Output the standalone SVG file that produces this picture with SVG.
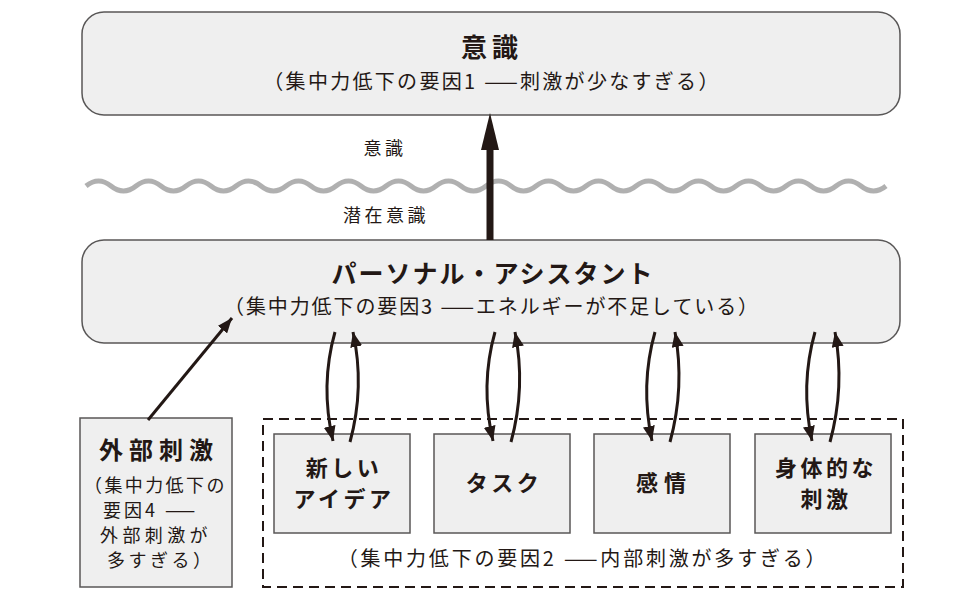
<svg xmlns="http://www.w3.org/2000/svg" width="970" height="600" viewBox="0 0 970 600">
<defs>
<marker id="ah" markerUnits="userSpaceOnUse" markerWidth="15" markerHeight="12" refX="15" refY="6" orient="auto">
<path d="M0,0 L15,6 L0,12 z" fill="#231815"/>
</marker>
<style>
text{font-family:"Noto Sans CJK JP","Noto Sans",sans-serif;fill:#231815;text-anchor:middle}
.big{font-size:25px;font-weight:bold;letter-spacing:2px}
.sub{font-size:20px;letter-spacing:2.3px}
.lbl{font-size:18px;letter-spacing:3.5px}
.node{font-size:22px;font-weight:bold;letter-spacing:3.5px}
.ext{font-size:18px;letter-spacing:3px;text-anchor:start}
.rbox{fill:#efefef;stroke:#595757;stroke-width:1.5}
.box{fill:#efefef;stroke:#595757;stroke-width:1.5}
.con{fill:none;stroke:#231815;stroke-width:3}
</style>
</defs>
<rect width="970" height="600" fill="#fff"/>
<path d="M86,186 q12.5,-10 25,0 t25,0 t25,0 t25,0 t25,0 t25,0 t25,0 t25,0 t25,0 t25,0 t25,0 t25,0 t25,0 t25,0 t25,0 t25,0 t25,0 t25,0 t25,0 t25,0 t25,0 t25,0 t25,0 t25,0 t25,0 t25,0 t25,0 t25,0 t25,0 t25,0 t25,0 t25,0" fill="none" stroke="#b0b0b0" stroke-width="5"/>
<text class="lbl" x="385" y="155">意識</text>
<text class="lbl" x="386" y="222">潜在意識</text>
<g id="conscious">
<rect class="rbox" x="82" y="12" width="818" height="103" rx="22"/>
<text class="big" x="492" y="57" style="font-size:26px;letter-spacing:5px">意識</text>
<text class="sub" x="492" y="89">（集中力低下の要因1 ——刺激が少なすぎる）</text>
</g>
<g id="assistant">
<rect class="rbox" x="82" y="240" width="818" height="103" rx="22"/>
<text class="big" x="493" y="283">パーソナル・アシスタント</text>
<text class="sub" x="492" y="314" style="letter-spacing:1.9px">（集中力低下の要因3 ——エネルギーが不足している）</text>
</g>
<g id="internal">
<rect x="263" y="419" width="640" height="168" fill="none" stroke="#231815" stroke-width="2" stroke-dasharray="10,6"/>
<text class="sub" x="583" y="566" style="letter-spacing:2.8px">（集中力低下の要因2 ——内部刺激が多すぎる）</text>
</g>
<g id="external">
<rect class="box" x="80" y="418" width="152" height="169"/>
<text class="node" x="159" y="459" style="font-size:24px;letter-spacing:6px">外部刺激</text>
<text class="ext" x="84" y="492" style="letter-spacing:2.4px">（集中力低下の</text>
<text class="ext" x="103" y="517">要因4 ——</text>
<text class="ext" x="100" y="542" style="letter-spacing:4.4px">外部刺激が</text>
<text class="ext" x="107" y="567" style="letter-spacing:3.5px">多すぎる）</text>
</g>
<g id="idea">
<rect class="box" x="274" y="434" width="136" height="99"/>
<text class="node" x="344" y="476">新しい</text>
<text class="node" x="344" y="507">アイデア</text>
</g>
<g id="task">
<rect class="box" x="434" y="434" width="136" height="99"/>
<text class="node" x="504" y="491">タスク</text>
</g>
<g id="emotion">
<rect class="box" x="594" y="434" width="136" height="99"/>
<text class="node" x="664" y="491" style="letter-spacing:6px">感情</text>
</g>
<g id="body">
<rect class="box" x="755" y="434" width="136" height="99"/>
<text class="node" x="826" y="476">身体的な</text>
<text class="node" x="826" y="507">刺激</text>
</g>
<g id="connectors">
<line x1="490" y1="240" x2="490" y2="148" stroke="#231815" stroke-width="7"/>
<path d="M481,150 L490,113 L499,150 z" fill="#231815"/>
<path class="con" d="M148,420 L232,318" marker-end="url(#ah)"/>
<path class="con" d="M335,332 Q320,385 333,441" marker-end="url(#ah)"/>
<path class="con" d="M350,442 Q365,387 353,332" marker-end="url(#ah)"/>
<path class="con" d="M495,332 Q480,385 493,441" marker-end="url(#ah)"/>
<path class="con" d="M511,442 Q526,387 515,332" marker-end="url(#ah)"/>
<path class="con" d="M655,332 Q640,385 652,441" marker-end="url(#ah)"/>
<path class="con" d="M670,442 Q685,387 675,332" marker-end="url(#ah)"/>
<path class="con" d="M815,332 Q800,385 812,441" marker-end="url(#ah)"/>
<path class="con" d="M830,442 Q845,387 835,332" marker-end="url(#ah)"/>
</g>
</svg>
